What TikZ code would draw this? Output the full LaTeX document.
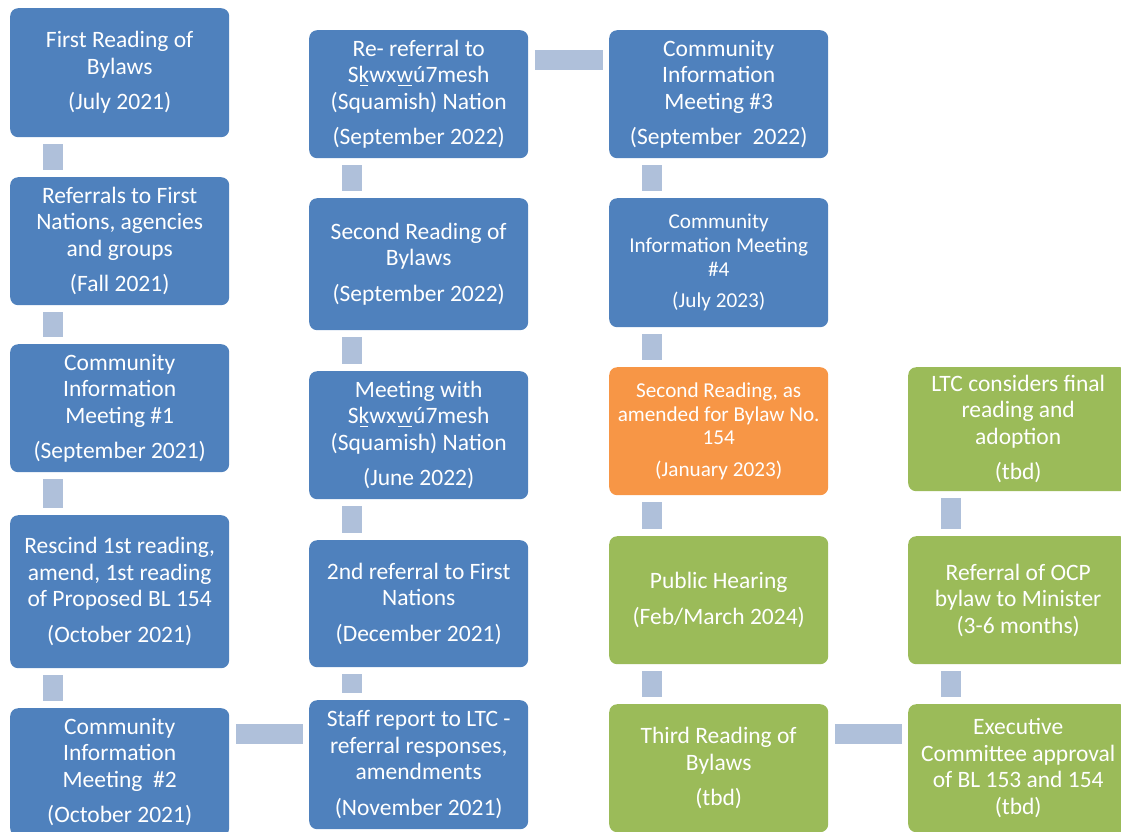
\documentclass[tikz,border=0pt]{standalone}
\usepackage{fontspec}
\setmainfont{Carlito}
\definecolor{bblue}{HTML}{4F81BD}
\definecolor{borange}{HTML}{F79646}
\definecolor{bgreen}{HTML}{9BBB59}
\definecolor{barc}{HTML}{AFC0DA}
\newcommand\mbl[1]{\leavevmode\setbox0=\hbox{#1}\rlap{\kern0.1\wd0\raisebox{-3.2pt}{\rule{0.8\wd0}{1.2pt}}}\copy0}
\newcommand\sq{S\mbl{k}wx\mbl{w}ú7mesh}
\begin{document}
\begin{tikzpicture}[x=1pt,y=-1pt,
  box/.style={rounded corners=8pt, draw=none, text=white, align=center, anchor=north west,
    inner sep=0pt, minimum width=219pt, font=\fontsize{23.5}{26.5}\selectfont},
  blu/.style={box, fill=bblue},
  org/.style={box, fill=borange},
  grn/.style={box, fill=bgreen},
  sm/.style={font=\fontsize{21.2}{23.6}\selectfont},
  vbar/.style={draw=barc, line width=20pt, shorten <=7pt, shorten >=7pt},
  hbar/.style={draw=barc, line width=20pt, shorten <=6.5pt, shorten >=6.5pt}]
\useasboundingbox (0,0) rectangle (1121,831);
\clip (0,0) rectangle (1121,831);
% column 1
\node[blu, minimum height=129pt] (b1) at (10,8) {First Reading of\\Bylaws\\[9pt](July 2021)};
\node[blu, minimum height=128pt] (b2) at (10,177) {Referrals to First\\Nations, agencies\\and groups\\[9pt](Fall 2021)};
\node[blu, minimum height=128pt] (b3) at (10,344) {Community\\Information\\Meeting \#1\\[9pt](September 2021)};
\node[blu, minimum height=153pt] (b4) at (10,515) {Rescind 1st reading,\\amend, 1st reading\\of Proposed BL 154\\[9pt](October 2021)};
\node[blu, minimum height=128pt] (b5) at (10,708) {Community\\Information\\Meeting\ \ \#2\\[9pt](October 2021)};
% column 2
\node[blu, minimum height=128pt] (c1) at (309,30) {Re- referral to\\\sq\\(Squamish) Nation\\[9pt](September 2022)};
\node[blu, minimum height=132pt] (c2) at (309,198) {Second Reading of\\Bylaws\\[9pt](September 2022)};
\node[blu, minimum height=128pt] (c3) at (309,371) {Meeting with\\\sq\\(Squamish) Nation\\[9pt](June 2022)};
\node[blu, minimum height=127pt] (c4) at (309,540) {2nd referral to First\\Nations\\[9pt](December 2021)};
\node[blu, minimum height=129pt] (c5) at (309,700) {Staff report to LTC -\\referral responses,\\amendments\\[9pt](November 2021)};
% column 3
\node[blu, minimum height=128pt] (d1) at (609,30) {Community\\Information\\Meeting \#3\\[9pt](September\ \ 2022)};
\node[blu, sm, minimum height=129pt] (d2) at (609,198) {Community\\Information Meeting\\\#4\\[8pt](July 2023)};
\node[org, sm, minimum height=128pt] (d3) at (609,367) {Second Reading, as\\amended for Bylaw No.\\154\\[8pt](January 2023)};
\node[grn, minimum height=128pt] (d4) at (609,536) {Public Hearing\\[9pt](Feb/March 2024)};
\node[grn, minimum height=128pt] (d5) at (609,704) {Third Reading of\\Bylaws\\[9pt](tbd)};
% column 4
\node[grn, minimum width=220pt, minimum height=124pt] (e1) at (908,367) {LTC considers final\\reading and\\adoption\\[9pt](tbd)};
\node[grn, minimum width=220pt, minimum height=128pt] (e2) at (908,536) {Referral of OCP\\bylaw to Minister\\(3-6 months)};
\node[grn, minimum width=220pt, minimum height=128pt] (e3) at (908,704) {Executive\\Committee approval\\of BL 153 and 154\\(tbd)};
% vertical connectors
\foreach \a/\b in {b1/b2,b2/b3,b3/b4,b4/b5,c1/c2,c2/c3,c3/c4,c4/c5,d1/d2,d2/d3,d3/d4,d4/d5}
  \draw[vbar] ([xshift=43pt]\a.south west) -- ([xshift=43pt]\b.north west);
\draw[vbar] ([xshift=43pt]e3.north west) -- ([xshift=43pt]e2.south west);
\draw[vbar] ([xshift=43pt]e2.north west) -- ([xshift=43pt]e1.south west);
% horizontal connectors
\coordinate (h1) at ([yshift=-30pt]c1.north east);
\draw[hbar] (h1) -- (h1 -| d1.west);
\coordinate (h2) at ([yshift=-26pt]b5.north east);
\draw[hbar] (h2) -- (h2 -| c5.west);
\coordinate (h3) at ([yshift=-30pt]d5.north east);
\draw[hbar] (h3) -- (h3 -| e3.west);
\end{tikzpicture}
\end{document}
